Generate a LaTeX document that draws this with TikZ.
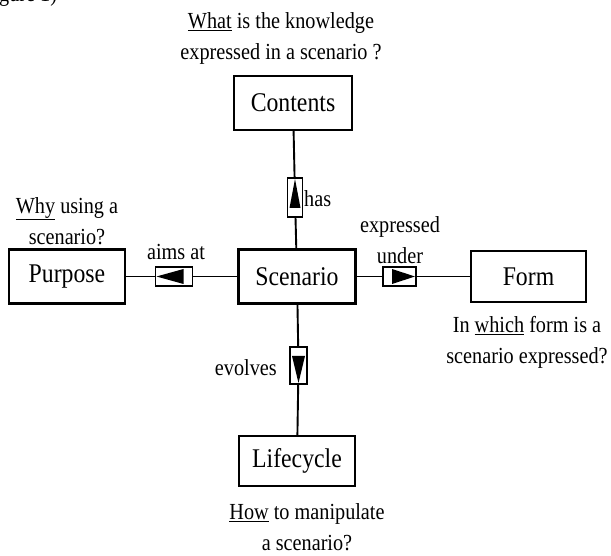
\documentclass[tikz,border=0pt]{standalone}
\usepackage{fontspec}
\setmainfont{Liberation Serif}[FakeStretch=0.88]
\usetikzlibrary{positioning,calc}
\tikzset{
  box/.style={draw,line width=2.4pt,inner sep=0pt,font=\fontsize{27}{30}\selectfont},
  question/.style={align=center,inner sep=0pt,font=\fontsize{23}{31}\selectfont},
  link/.style={line width=1.9pt},
  tagbox/.style={draw,line width=1.8pt,fill=white,inner sep=0pt},
  tagup/.style={tagbox,minimum width=15pt,minimum height=39pt,
    path picture={\fill[black] ([yshift=-1pt]path picture bounding box.north) -- ([xshift=2pt,yshift=9pt]path picture bounding box.south west) -- ([xshift=-2pt,yshift=9pt]path picture bounding box.south east) -- cycle;}},
  tagdown/.style={tagbox,minimum width=17pt,minimum height=37pt,
    path picture={\fill[black] ([yshift=1pt]path picture bounding box.south) -- ([xshift=2pt,yshift=-9pt]path picture bounding box.north west) -- ([xshift=-2pt,yshift=-9pt]path picture bounding box.north east) -- cycle;}},
  tagleft/.style={tagbox,minimum width=37pt,minimum height=19pt,
    path picture={\fill[black] ([xshift=1pt]path picture bounding box.west) -- ([xshift=-9pt,yshift=-2pt]path picture bounding box.north east) -- ([xshift=-9pt,yshift=2pt]path picture bounding box.south east) -- cycle;}},
  tagright/.style={tagbox,minimum width=33pt,minimum height=19pt,
    path picture={\fill[black] ([xshift=-1pt]path picture bounding box.east) -- ([xshift=9pt,yshift=-2pt]path picture bounding box.north west) -- ([xshift=9pt,yshift=2pt]path picture bounding box.south west) -- cycle;}}
}
\begin{document}
\begin{tikzpicture}[x=1pt,y=1pt]
\useasboundingbox (0,0) rectangle (611,555);
\node[box,minimum width=118pt,minimum height=54pt] (0) at (293,452) {Contents};
\node[box,minimum width=117pt,minimum height=54pt] (1) at (297,278.5) {Scenario};
\node[box,minimum width=116pt,minimum height=54pt] (2) at (67,278.5) {Purpose};
\node[box,minimum width=115pt,minimum height=51pt] (3) at (528.5,278.5) {Form};
\node[box,minimum width=116pt,minimum height=50pt] (4) at (297,94) {Lifecycle};
\node[tagup] (5) at (295,357.5) {};
\node[tagleft] (6) at (174,278.5) {};
\node[tagright] (7) at (399.5,278.5) {};
\node[tagdown] (8) at (298.5,189.5) {};
\draw[link] (0) -- (5) -- (1);
\draw[link] (2) -- (6) -- (1);
\draw[link] (1) -- (7) -- (3);
\draw[link] (1) -- (8) -- (4);
\node[question,anchor=west] (9) at (304,356) {has};
\node[question] (10) at (176,303) {aims at};
\node[question] (11) at (400,315) {expressed\\under};
\node[question,anchor=east] (12) at (277,187) {evolves};
\node[question] (13) at (281,517) {\underline{What} is the knowledge\\expressed in a scenario ?};
\node[question] (14) at (67,334) {\underline{Why} using a\\scenario?};
\node[question] (15) at (527,213) {In \underline{which} form is a\\scenario expressed?};
\node[question] (16) at (307,28) {\underline{How} to manipulate\\a scenario?};
\node[question,anchor=base west] (17) at (-1,553) {gure 1)};
\end{tikzpicture}
\end{document}
